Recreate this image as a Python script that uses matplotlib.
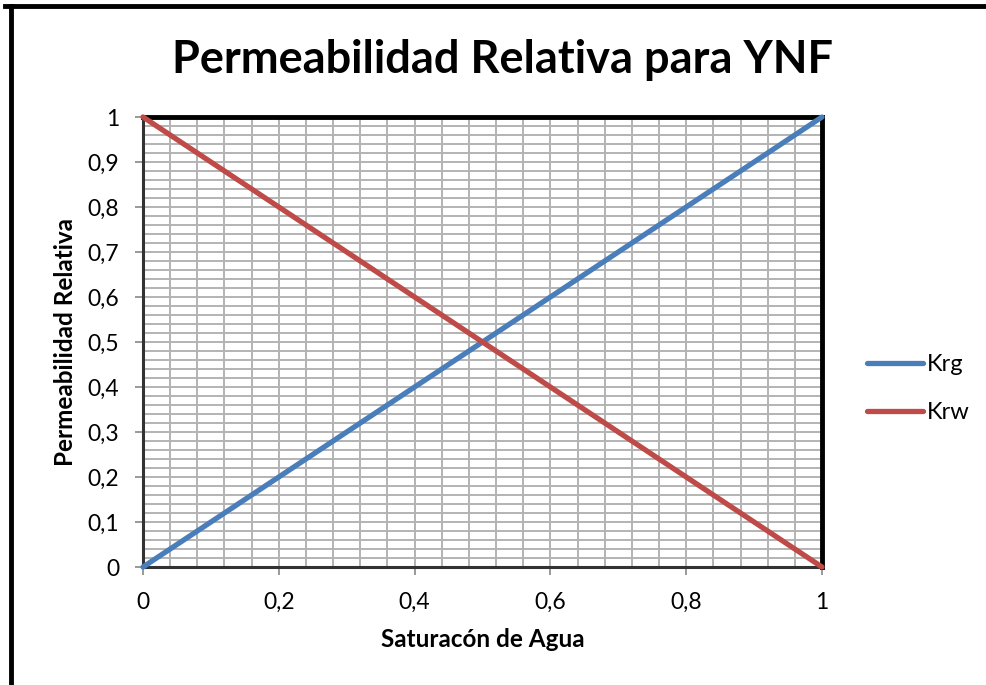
import matplotlib
matplotlib.use("Agg")
import matplotlib.pyplot as plt
from matplotlib.ticker import FixedLocator, MultipleLocator
from matplotlib.lines import Line2D

plt.rcParams['font.family'] = ['Lato', 'DejaVu Sans']

sw = [0, 1]
krg = [0, 1]
krw = [1, 0]
xticks = [0, 0.2, 0.4, 0.6, 0.8, 1]
xlabels = ["0", "0,2", "0,4", "0,6", "0,8", "1"]
yticks = [0, 0.1, 0.2, 0.3, 0.4, 0.5, 0.6, 0.7, 0.8, 0.9, 1]
ylabels = ["0", "0,1", "0,2", "0,3", "0,4", "0,5", "0,6", "0,7", "0,8", "0,9", "1"]

fig = plt.figure(figsize=(9.87, 6.85), dpi=100)
ax = fig.add_axes([143/987, 1-567/685, (822-143)/987, (567-117)/685])

# outer border
fig.add_artist(Line2D([5/987, 1], [1-6/685, 1-6/685], color='black', lw=3.5, transform=fig.transFigure))
fig.add_artist(Line2D([11/987, 11/987], [0, 1-6/685], color='black', lw=3.5, transform=fig.transFigure))

ax.set_xlim(0, 1)
ax.set_ylim(0, 1)
ax.xaxis.set_major_locator(FixedLocator(xticks))
ax.yaxis.set_major_locator(FixedLocator(yticks))
ax.xaxis.set_minor_locator(MultipleLocator(0.04))
ax.yaxis.set_minor_locator(MultipleLocator(0.02))
ax.set_xticklabels(xlabels)
ax.set_yticklabels(ylabels)
ax.grid(True, which='both', color='#b3b3b3', lw=1.4)
ax.set_axisbelow(True)
ax.tick_params(which='major', direction='out', length=6, width=1.2, color='#888888',
               labelsize=16.5, pad=11)
ax.tick_params(axis='x', which='major', pad=12)
ax.tick_params(which='minor', length=0)

for s in ['top', 'right']:
    ax.spines[s].set_linewidth(3.5)
    ax.spines[s].set_color('black')
for s in ['left', 'bottom']:
    ax.spines[s].set_linewidth(2.2)
    ax.spines[s].set_color('#333333')

ax.plot(sw, krg, color='#4a7ebb', lw=3.8, label='Krg', solid_capstyle='round', clip_on=False, zorder=5)
ax.plot(sw, krw, color='#be4b48', lw=3.8, label='Krw', solid_capstyle='round', clip_on=False, zorder=5)

fig.text(503/987, 1-60/685, 'Permeabilidad Relativa para YNF', fontsize=32.5,
         fontweight='bold', ha='center', va='center')
ax.set_xlabel('Saturacón de Agua', fontsize=17.5, fontweight='bold', labelpad=11)
ax.set_ylabel('Permeabilidad Relativa', fontsize=17.5, fontweight='bold', labelpad=8)

leg = ax.legend(loc='center left', bbox_to_anchor=(1.066, 0.396), frameon=False,
                fontsize=17, handlelength=2.37, handletextpad=0.17, labelspacing=1.14,
                borderpad=0, borderaxespad=0)

fig.savefig('out.png', dpi=100)
